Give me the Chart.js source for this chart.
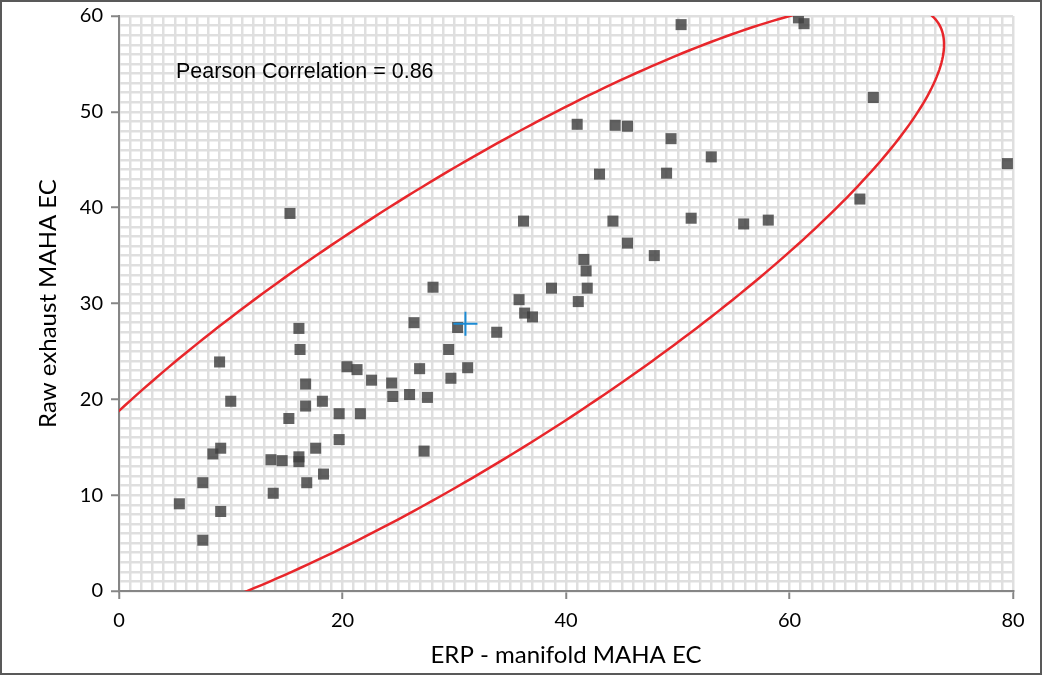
<!DOCTYPE html>
<html>
<head>
<meta charset="utf-8">
<title>ERP manifold vs raw exhaust MAHA EC</title>
<script src="https://cdn.jsdelivr.net/npm/chart.js@4.4.1/dist/chart.umd.min.js"></script>
<style>
  html, body { margin: 0; padding: 0; background: #fff; }
  #wrap { width: 1042px; height: 675px; }
</style>
</head>
<body>
<div id="wrap"><canvas id="scatterChart" width="1042" height="675"></canvas></div>
<script>
// EC measurements: ERP manifold (x) vs raw exhaust (y), MAHA cycle
const erpManifoldEC = [
  50.3, 60.8, 61.3, 67.5, 41.0, 44.4, 45.5, 49.4, 53.0, 43.0,
  49.0, 15.3, 36.2, 44.2, 51.2, 55.9, 58.1, 66.3, 79.5, 45.5,
  47.9, 41.6, 41.8, 38.7, 41.9, 28.1, 35.8, 41.1, 36.3, 37.0,
  33.8, 26.4, 30.3, 29.5, 16.1, 16.2, 9.0, 20.4, 21.3, 26.9,
  31.2, 16.7, 22.6, 24.4, 29.7, 24.5, 26.0, 27.6, 10.0, 16.7,
  18.2, 15.2, 19.7, 21.6, 9.1, 8.4, 17.6, 19.7, 13.6, 14.6,
  16.1, 16.1, 27.3, 18.3, 7.5, 16.8, 13.8, 5.4, 9.1, 7.5
];
const rawExhaustEC = [
  59.1, 59.8, 59.2, 51.5, 48.7, 48.6, 48.5, 47.2, 45.3, 43.5,
  43.6, 39.4, 38.6, 38.6, 38.9, 38.3, 38.7, 40.9, 44.6, 36.3,
  35.0, 34.6, 33.4, 31.6, 31.6, 31.7, 30.4, 30.2, 29.0, 28.6,
  27.0, 28.0, 27.5, 25.2, 27.4, 25.2, 23.9, 23.4, 23.1, 23.2,
  23.3, 21.6, 22.0, 21.7, 22.2, 20.3, 20.5, 20.2, 19.8, 19.3,
  19.8, 18.0, 18.5, 18.5, 14.9, 14.3, 14.9, 15.8, 13.7, 13.6,
  14.0, 13.5, 14.6, 12.2, 11.3, 11.3, 10.2, 9.1, 8.3, 5.3
];

// centroid marker and confidence ellipse (data units, angle in degrees)
const centroid = [31.0, 27.9];
const ellipseCenter = [30.9, 28.04];
const ellipseSemiAxes = [52.7, 13.63];
const ellipseAngle = 36.9;

const correlationLabel = "Pearson Correlation = 0.86";
const correlationAnchor = [5.1, 54.2];

const xMax = 80, xMajor = 20;
const yMax = 60, yMajor = 10;

const GRID = "#dfdfdf";
const AXIS = "#868686";

const points = erpManifoldEC.map((x, i) => ({ x: x, y: rawExhaustEC[i] }));

// frame around the whole figure
const framePlugin = {
  id: "frame",
  beforeDraw(chart) {
    const { ctx, width, height } = chart;
    ctx.save();
    ctx.fillStyle = "#fff";
    ctx.fillRect(0, 0, width, height);
    ctx.restore();
  },
  afterDraw(chart) {
    const { ctx, width, height } = chart;
    ctx.save();
    ctx.strokeStyle = "#595959";
    ctx.lineWidth = 2;
    ctx.strokeRect(1, 1, width - 2, height - 2);
    ctx.restore();
  }
};

// red ellipse, sampled in data space and mapped through the scales
const ellipsePlugin = {
  id: "ellipse",
  beforeDatasetsDraw(chart) {
    const { ctx, chartArea, scales } = chart;
    const th = ellipseAngle * Math.PI / 180;
    const [a, b] = ellipseSemiAxes;
    ctx.save();
    ctx.beginPath();
    ctx.rect(chartArea.left, chartArea.top, chartArea.right - chartArea.left, chartArea.bottom - chartArea.top);
    ctx.clip();
    ctx.beginPath();
    for (let i = 0; i <= 360; i++) {
      const t = i * Math.PI / 180;
      const u = a * Math.cos(t), v = b * Math.sin(t);
      const x = ellipseCenter[0] + u * Math.cos(th) - v * Math.sin(th);
      const y = ellipseCenter[1] + u * Math.sin(th) + v * Math.cos(th);
      const px = scales.x.getPixelForValue(x);
      const py = scales.y.getPixelForValue(y);
      if (i === 0) ctx.moveTo(px, py); else ctx.lineTo(px, py);
    }
    ctx.strokeStyle = "#e8262b";
    ctx.lineWidth = 2.5;
    ctx.stroke();
    ctx.restore();
  }
};

const labelPlugin = {
  id: "corrLabel",
  afterDatasetsDraw(chart) {
    const { ctx, scales } = chart;
    ctx.save();
    ctx.font = "21.5px 'Liberation Sans', Arial, sans-serif";
    ctx.fillStyle = "#000";
    ctx.textBaseline = "middle";
    ctx.textAlign = "left";
    ctx.fillText(correlationLabel,
      scales.x.getPixelForValue(correlationAnchor[0]),
      scales.y.getPixelForValue(correlationAnchor[1]));
    ctx.restore();
  }
};

const tickFont = { family: "Lato, 'Open Sans', sans-serif", size: 20 };
const titleFont = { family: "Lato, 'Open Sans', sans-serif", size: 24 };

new Chart(document.getElementById("scatterChart"), {
  type: "scatter",
  data: {
    datasets: [
      {
        data: points,
        pointStyle: "rect",
        pointRadius: 7.8,
        pointBorderWidth: 0,
        backgroundColor: "rgba(64,64,64,0.82)",
        borderColor: "rgba(0,0,0,0)",
        order: 2
      },
      {
        data: [{ x: centroid[0], y: centroid[1] }],
        pointStyle: "cross",
        pointRadius: 12,
        borderWidth: 2,
        borderColor: "#1b8ad3",
        backgroundColor: "#1b8ad3",
        order: 1
      }
    ]
  },
  options: {
    responsive: false,
    devicePixelRatio: 1,
    animation: false,
    layout: { padding: { left: 32, right: 29, top: 16, bottom: 0 } },
    plugins: {
      legend: { display: false },
      tooltip: { enabled: false }
    },
    scales: {
      x: {
        type: "linear",
        min: 0,
        max: xMax,
        afterFit(s) {
          s.height = 84;
          s.paddingLeft = 0;
          s.paddingRight = 0;
        },
        grid: {
          color: GRID,
          lineWidth: 2.5,
          tickLength: 8,
          tickWidth: 2,
          tickColor: (c) => (c.tick && c.tick.value % xMajor === 0 ? AXIS : "rgba(0,0,0,0)")
        },
        border: { display: true, color: AXIS, width: 2 },
        ticks: {
          stepSize: 1,
          autoSkip: false,
          maxRotation: 0,
          padding: 10,
          color: "#000",
          font: tickFont,
          callback: (v) => (v % xMajor === 0 ? v : "")
        },
        title: {
          display: true,
          text: "ERP - manifold MAHA EC",
          color: "#000",
          font: titleFont,
          padding: { top: 4, bottom: 5 }
        }
      },
      y: {
        type: "linear",
        min: 0,
        max: yMax,
        afterFit(s) {
          s.width = 87;
          s.paddingTop = 0;
          s.paddingBottom = 0;
        },
        grid: {
          color: GRID,
          lineWidth: 2.5,
          tickLength: 8,
          tickWidth: 2,
          tickColor: (c) => (c.tick && c.tick.value % yMajor === 0 ? AXIS : "rgba(0,0,0,0)")
        },
        border: { display: true, color: AXIS, width: 2 },
        ticks: {
          stepSize: 1,
          autoSkip: false,
          padding: 8,
          color: "#000",
          font: tickFont,
          callback: (v) => (v % yMajor === 0 ? v : "")
        },
        title: {
          display: true,
          text: "Raw exhaust MAHA EC",
          color: "#000",
          font: titleFont,
          padding: { top: 2, bottom: 4 }
        }
      }
    }
  },
  plugins: [framePlugin, ellipsePlugin, labelPlugin]
});
</script>
</body>
</html>
